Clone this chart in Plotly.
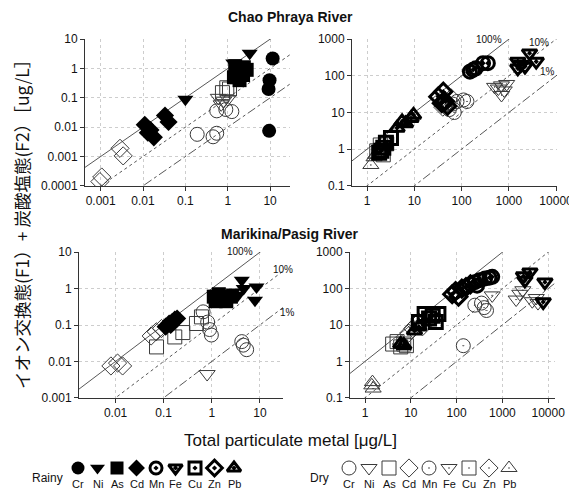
import numpy as np
import plotly.graph_objects as go

W, H = 577, 495
OFF = 8  # the page body adds an 8 px margin; positions below are in window pixels

metals = ["Cr", "Ni", "As", "Cd", "Mn", "Fe", "Cu", "Zn", "Pb"]
rainy_symbols = ["circle", "triangle-down", "square", "diamond", "circle-open-dot",
                 "triangle-down-open-dot", "square-open-dot", "diamond-open-dot", "triangle-up-open-dot"]
dry_symbols = ["circle-open", "triangle-down-open", "square-open", "diamond-open", "circle-open-dot",
               "triangle-down-open-dot", "square-open-dot", "diamond-open-dot", "triangle-up-open-dot"]

# ---------------- Chao Phraya River: (total particulate, F1+F2) ----------------
cp_rainy_Cr = ([11.5, 9.7, 9.2, 9.5], [2.2, 0.4, 0.2, 0.0075])
cp_rainy_Ni = ([0.1, 1.35, 1.6, 3.3], [0.09, 1.55, 1.3, 3.3])
cp_rainy_As = ([1.5, 1.7, 2.0, 2.4, 2.8, 1.4, 1.9, 2.3, 1.6], [1.2, 0.9, 1.0, 1.1, 0.9, 0.5, 0.4, 0.6, 0.7])
cp_rainy_Cd = ([0.011, 0.015, 0.018, 0.013, 0.033, 0.04], [0.012, 0.008, 0.0045, 0.0065, 0.025, 0.015])
cp_rainy_Mn = ([150, 175, 200, 285, 360], [130, 146, 160, 222, 222])
cp_rainy_Fe = ([1550, 1550, 2200, 2750, 3800, 1800], [245, 160, 180, 416, 245, 200])
cp_rainy_Cu = ([3.2, 2.5, 2.2, 1.8, 2.0], [2.0, 1.5, 1.1, 0.8, 0.9])
cp_rainy_Zn = ([32, 41, 45, 50, 38], [27, 37, 20, 15, 18])
cp_rainy_Pb = ([4.3, 5.5, 6.5, 8.5, 9.6], [3.8, 5.7, 5.0, 7.0, 8.6])

cp_dry_Cr = ([0.19, 0.45, 0.55, 0.55, 0.9, 1.25], [0.0057, 0.0047, 0.0062, 0.036, 0.04, 0.034])
cp_dry_Ni = ([0.6, 0.8, 1.0, 0.7], [0.1, 0.08, 0.09, 0.06])
cp_dry_As = ([0.75, 0.95, 1.1], [0.15, 0.22, 0.2])
cp_dry_Cd = ([0.00286, 0.0034, 0.00106, 0.00096], [0.0019, 0.00105, 0.0002, 0.00014])
cp_dry_Mn = ([55, 65, 80, 110, 130, 70], [12, 17, 20, 22, 20, 10])
cp_dry_Fe = ([500, 600, 700, 900, 700, 800], [50, 45, 55, 60, 30, 40])
cp_dry_Cu = ([1.6, 1.9, 2.2, 2.6], [0.9, 1.3, 0.7, 1.4])
cp_dry_Zn = ([50, 60, 40], [18, 25, 14])
cp_dry_Pb = ([1.2, 1.5, 1.4], [0.37, 0.7, 0.6])

# ---------------- Marikina/Pasig River ----------------
mp_rainy_Cr = ([], [])
mp_rainy_Ni = ([4.2, 8.5, 7.9, 3.5, 2.8, 4.6], [1.7, 1.1, 0.48, 0.66, 0.81, 1.0])
mp_rainy_As = ([1.1, 1.4, 1.7, 2.0, 2.5, 1.2], [0.6, 0.7, 0.55, 0.45, 0.6, 0.45])
mp_rainy_Cd = ([0.11, 0.13, 0.15, 0.17, 0.19, 0.14], [0.09, 0.11, 0.12, 0.14, 0.15, 0.1])
mp_rainy_Mn = ([250, 320, 420, 520, 600, 280], [150, 170, 190, 200, 210, 120])
mp_rainy_Fe = ([4000, 3100, 2900, 8500, 7800], [283, 168, 220, 150, 43])
mp_rainy_Cu = ([15, 20, 25, 30, 35, 40], [12, 20, 15, 18, 12, 20])
mp_rainy_Zn = ([80, 95, 110, 130, 160, 200], [70, 85, 60, 100, 110, 130])
mp_rainy_Pb = ([6, 7, 12, 15], [3, 2.8, 7, 9])

mp_dry_Cr = ([0.66, 0.82, 0.9, 0.98, 4.2, 4.5, 5.3], [0.23, 0.12, 0.075, 0.053, 0.035, 0.028, 0.021])
mp_dry_Ni = ([0.8], [0.0045])
mp_dry_As = ([0.071, 0.17, 0.25, 0.48, 0.61], [0.025, 0.047, 0.062, 0.11, 0.167])
mp_dry_Cd = ([0.008, 0.011, 0.014, 0.055, 0.07, 0.09], [0.0075, 0.009, 0.0075, 0.05, 0.065, 0.08])
mp_dry_Mn = ([250, 350, 400, 450, 140], [35, 40, 30, 25, 2.7])
mp_dry_Fe = ([600, 2000, 2400, 2800, 4500, 5500, 6000], [65, 50, 72, 90, 45, 55, 40])
mp_dry_Cu = ([4, 5, 6, 7, 8], [3, 3.5, 2.5, 3, 2.7])
mp_dry_Zn = ([9, 11, 13, 15, 18], [6, 8, 10, 12, 9])
mp_dry_Pb = ([1.4, 1.5, 1.45], [0.22, 0.18, 0.27])

ratio_lines = [1.0, 0.1, 0.01]
ratio_dash = ["solid", "dot", "dashdot"]
ratio_labels = ["100%", "10%", "1%"]

left_x_ticks_cp = [0.001, 0.01, 0.1, 1, 10]
left_y_ticks_cp = [0.0001, 0.001, 0.01, 0.1, 1, 10]
left_x_ticks_mp = [0.01, 0.1, 1, 10]
left_y_ticks_mp = [0.001, 0.01, 0.1, 1, 10]
right_x_ticks = [1, 10, 100, 1000, 10000]
right_y_ticks = [0.1, 1, 10, 100, 1000]


def fmt(v):
    return ("%g" % v) if v >= 0.001 else "0.0001"


def px_x(p):
    return (p - OFF) / W


def px_y(p):
    return 1 - (p - OFF) / H


def rainy_marker(sym, size=13):
    if "open" in sym:
        return dict(symbol=sym, size=size - 1, color="black", line=dict(color="black", width=3))
    return dict(symbol=sym, size=size, color="black", line=dict(color="black", width=0))


def dry_marker(sym, size=14):
    return dict(symbol=sym, size=size, color="#3a3a3a", line=dict(color="#3a3a3a", width=1))


fig = go.Figure()

panels = [
    ("", (85, 290), (39, 186), (-3.37, 1.47), (-4.005, 1.005), left_x_ticks_cp, left_y_ticks_cp,
     [cp_rainy_Cr, cp_rainy_Ni, cp_rainy_As, cp_rainy_Cd], [cp_dry_Cr, cp_dry_Ni, cp_dry_As, cp_dry_Cd], 0),
    ("2", (352, 557), (39, 186), (-0.32, 4.02), (-1.005, 3.005), right_x_ticks, right_y_ticks,
     [cp_rainy_Mn, cp_rainy_Fe, cp_rainy_Cu, cp_rainy_Zn, cp_rainy_Pb],
     [cp_dry_Mn, cp_dry_Fe, cp_dry_Cu, cp_dry_Zn, cp_dry_Pb], 4),
    ("3", (79, 283), (252, 398), (-2.76, 1.48), (-3.005, 1.005), left_x_ticks_mp, left_y_ticks_mp,
     [mp_rainy_Cr, mp_rainy_Ni, mp_rainy_As, mp_rainy_Cd], [mp_dry_Cr, mp_dry_Ni, mp_dry_As, mp_dry_Cd], 0),
    ("4", (350, 555), (252, 398), (-0.33, 4.15), (-1.005, 3.005), right_x_ticks, right_y_ticks,
     [mp_rainy_Mn, mp_rainy_Fe, mp_rainy_Cu, mp_rainy_Zn, mp_rainy_Pb],
     [mp_dry_Mn, mp_dry_Fe, mp_dry_Cu, mp_dry_Zn, mp_dry_Pb], 4),
]

tick_font = dict(family="Liberation Sans", size=12, color="#111")
axis_common = dict(type="log", showline=True, linecolor="#333", linewidth=1, mirror=False,
                   showgrid=True, gridcolor="#cdcdcd", griddash="dot", gridwidth=1, automargin=False,
                   ticks="outside", ticklen=4, tickcolor="#333", tickfont=tick_font, zeroline=False)

for suf, xd, yd, xr, yr, xt, yt, rainy, dry, m0 in panels:
    xa, ya = "x" + suf, "y" + suf
    fig.update_layout(**{
        "xaxis" + suf: dict(axis_common, domain=[px_x(xd[0]), px_x(xd[1])], range=list(xr), anchor=ya,
                            tickvals=xt, ticktext=[fmt(v) for v in xt]),
        "yaxis" + suf: dict(axis_common, domain=[px_y(yd[1]), px_y(yd[0])], range=list(yr), anchor=xa,
                            tickvals=yt, ticktext=[fmt(v) for v in yt]),
    })
    xs = np.array([10 ** xr[0], 10 ** xr[1]])
    for f, d in zip(ratio_lines, ratio_dash):
        fig.add_trace(go.Scatter(x=xs, y=xs * f, mode="lines", xaxis=xa, yaxis=ya,
                                 line=dict(color="#444", width=0.9, dash=d), hoverinfo="skip"))
    for i, (xv, yv) in enumerate(dry):
        fig.add_trace(go.Scatter(x=xv, y=yv, mode="markers", xaxis=xa, yaxis=ya,
                                 name="Dry " + metals[m0 + i], marker=dry_marker(dry_symbols[m0 + i])))
    for i, (xv, yv) in enumerate(rainy):
        fig.add_trace(go.Scatter(x=xv, y=yv, mode="markers", xaxis=xa, yaxis=ya,
                                 name="Rainy " + metals[m0 + i], marker=rainy_marker(rainy_symbols[m0 + i], 14)))

# ---------------- legend drawn on a hidden axis (window pixel coordinates) ----------------
fig.update_layout(
    xaxis5=dict(domain=[0, 1], range=[OFF, W + OFF], visible=False, anchor="y5", fixedrange=True,
                automargin=False),
    yaxis5=dict(domain=[0, px_y(452)], range=[H + OFF, 452], visible=False, anchor="x5", fixedrange=True,
                automargin=False),
)
idx = np.arange(len(metals))
rainy_lx = 78 + 19.5 * idx
dry_lx = 349 + 20 * idx
for j, m in enumerate(metals):
    fig.add_trace(go.Scatter(x=[rainy_lx[j]], y=[468], mode="markers", xaxis="x5", yaxis="y5",
                             marker=rainy_marker(rainy_symbols[j], 13)))
    fig.add_trace(go.Scatter(x=[dry_lx[j]], y=[468], mode="markers", xaxis="x5", yaxis="y5",
                             marker=dry_marker(dry_symbols[j], 14)))

ann = []
leg_font = dict(family="Liberation Sans", size=11, color="#111")
for j, m in enumerate(metals):
    ann.append(dict(x=rainy_lx[j], y=484, xref="x5", yref="y5", text=m, showarrow=False, font=leg_font))
    ann.append(dict(x=dry_lx[j], y=484, xref="x5", yref="y5", text=m, showarrow=False, font=leg_font))
ann.append(dict(x=47, y=478, xref="x5", yref="y5", text="Rainy", showarrow=False,
                font=dict(family="Liberation Sans", size=12, color="#111")))
ann.append(dict(x=319, y=478, xref="x5", yref="y5", text="Dry", showarrow=False,
                font=dict(family="Liberation Sans", size=12, color="#111")))

title_font = dict(family="Liberation Sans", size=14, color="#111")
ann.append(dict(x=px_x(290), y=px_y(17), xref="paper", yref="paper", text="<b>Chao Phraya River</b>",
                showarrow=False, font=title_font, yanchor="middle"))
ann.append(dict(x=px_x(290), y=px_y(234), xref="paper", yref="paper", text="<b>Marikina/Pasig River</b>",
                showarrow=False, font=title_font, yanchor="middle"))
ann.append(dict(x=px_x(290), y=px_y(440), xref="paper", yref="paper", text="Total particulate metal [μg/L]",
                showarrow=False, font=dict(family="Liberation Sans", size=17, color="#111"), yanchor="middle"))
ann.append(dict(x=px_x(21), y=px_y(220), xref="paper", yref="paper", textangle=-90,
                text="イオン交換態(F1）+ 炭酸塩態(F2）［ug/L］", showarrow=False, xanchor="center",
                yanchor="middle", font=dict(family="Noto Sans CJK JP", size=17.5, color="#111")))

pct_font = dict(family="Liberation Sans", size=10, color="#111")
for (xp, yp), t in zip([(504, 40), (551, 42), (557, 72)], ratio_labels):
    ann.append(dict(x=px_x(xp), y=px_y(yp), xref="paper", yref="paper", text=t, showarrow=False,
                    font=pct_font, yanchor="middle"))
for (xp, yp), t in zip([(240, 251), (283, 269), (287, 312)], ratio_labels):
    ann.append(dict(x=px_x(xp), y=px_y(yp), xref="paper", yref="paper", text=t, showarrow=False,
                    font=pct_font, yanchor="middle"))

fig.update_layout(width=W, height=H, autosize=False, showlegend=False,
                  margin=dict(l=0, r=0, t=0, b=0, pad=0, autoexpand=False),
                  paper_bgcolor="white", plot_bgcolor="white", annotations=ann)

fig.write_html("out.html")
